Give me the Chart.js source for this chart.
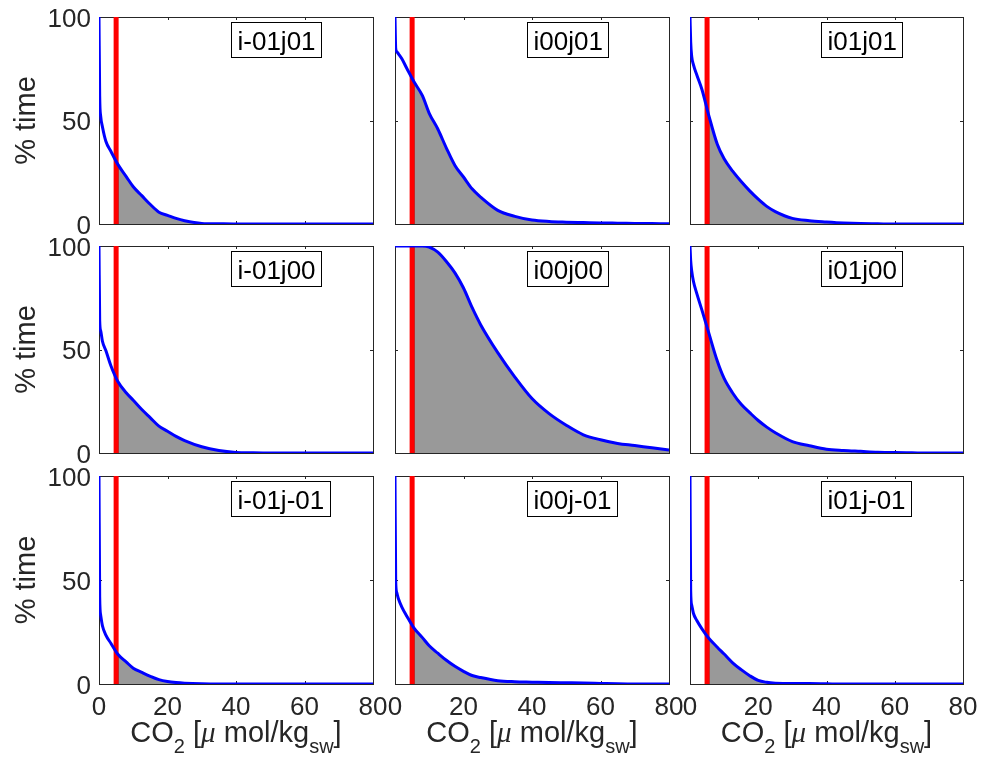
<!DOCTYPE html>
<html>
<head>
<meta charset="utf-8">
<title>CO2 exceedance by grid cell</title>
<script src="https://cdn.jsdelivr.net/npm/chart.js@4/dist/chart.umd.min.js"></script>
<style>
  html, body { margin: 0; padding: 0; background: #ffffff; width: 990px; height: 757px; overflow: hidden; }
  canvas { position: absolute; left: 0; top: 0; }
</style>
</head>
<body>
<script>
// CO2 concentration grid [umol/kg seawater] shared by all cells
const co2Grid = [0, 0.2, 0.5, 1, 2, 3.5, 5.5, 8, 10, 12.5, 15, 17.5, 20, 22.5, 25, 30, 35, 40, 45, 50, 55, 60, 65, 70, 75, 80];

// Percentage of time the CO2 level is exceeded, one series per grid cell
const pctTime_im01j01 = [100, 62, 52, 47, 40, 35, 28.8, 22.8, 18, 13.7, 9.4, 5.7, 4.2, 2.7, 1.6, 0.3, 0.1, 0, 0, 0, 0, 0, 0, 0, 0, 0];
const pctTime_i00j01  = [100, 85, 83.3, 82.2, 79.8, 75, 68.8, 62, 53.5, 45.9, 36.7, 28.3, 22.7, 17, 13, 6.6, 3.7, 1.9, 1.2, 0.9, 0.7, 0.5, 0.4, 0.3, 0.2, 0.1];
const pctTime_i01j01  = [100, 88, 81, 77, 72, 65, 52.5, 38.5, 31.5, 25.5, 20.5, 16, 12, 8.5, 6, 2.7, 1.6, 1, 0.5, 0.2, 0.1, 0, 0, 0, 0, 0];
const pctTime_im01j00 = [100, 64, 59, 54, 49.5, 42, 34.5, 29, 25.5, 21, 17, 13, 10.5, 8, 6, 3, 1.2, 0.3, 0.1, 0, 0, 0, 0, 0, 0, 0];
const pctTime_i00j00  = [100, 100, 100, 100, 100, 100, 100, 100, 99.5, 97, 92.5, 87, 79.7, 70.3, 62, 48.5, 36.7, 26.3, 19, 13.4, 8.8, 6.4, 4.6, 3.6, 2.5, 1.5];
const pctTime_i01j00  = [100, 93, 88, 83, 77, 69, 58, 44.4, 36, 29, 23.5, 19.5, 15.7, 12.5, 9.8, 5.5, 3.5, 1.8, 1.2, 0.8, 0.4, 0.2, 0.1, 0, 0, 0];
const pctTime_im01jm01 = [100, 42, 33, 28, 23.5, 19.5, 14.3, 10.5, 7.6, 5.6, 3.7, 2.1, 1.2, 0.7, 0.4, 0.1, 0, 0, 0, 0, 0, 0, 0, 0, 0, 0];
const pctTime_i00jm01 = [100, 50, 44, 41, 37, 32.5, 27, 22.3, 18.4, 14.8, 11.4, 8.5, 6.1, 4.1, 3.1, 1.6, 1.1, 0.9, 0.7, 0.6, 0.5, 0.3, 0.1, 0, 0, 0];
const pctTime_i01jm01 = [100, 45, 38, 34, 30.5, 26.5, 22, 17.7, 14.4, 10.2, 6.9, 4, 1.7, 0.8, 0.4, 0.2, 0.2, 0.1, 0, 0, 0, 0, 0, 0, 0, 0];

// Cell names, laid out row by row (j = +1, 0, -1; i = -1, 0, +1)
const cellNames = ['i-01j01', 'i00j01', 'i01j01', 'i-01j00', 'i00j00', 'i01j00', 'i-01j-01', 'i00j-01', 'i01j-01'];
const cellSeries = [pctTime_im01j01, pctTime_i00j01, pctTime_i01j01, pctTime_im01j00, pctTime_i00j00, pctTime_i01j00, pctTime_im01jm01, pctTime_i00jm01, pctTime_i01jm01];

// Threshold (red line) and start of the shaded exceedance area
const thresholdCO2 = 5;
const shadeStartCO2 = 5.5;

// Tick labels
const xTicks = [0, 20, 40, 60, 80];
const yTicks = [0, 50, 100];
const xTitleRuns = [
  { t: 'CO', kind: 'main' }, { t: '2', kind: 'sub' }, { t: ' [', kind: 'main' },
  { t: 'μ', kind: 'greek' }, { t: ' mol/kg', kind: 'main' }, { t: 'sw', kind: 'sub' }, { t: ']', kind: 'main' }
];
const yTitle = '% time';

// ---- layout of the 3x3 grid of axes (pixels) ----
const W = 990, H = 757;
const colEdges = [[99, 373], [395, 669], [690, 963]];
const rowEdges = [[17, 224], [246, 453], [476, 684]];

const AXIS_COLOR = '#262626';
const TICK_FONT = '26px "Liberation Sans", Arial, sans-serif';
const TITLE_FONT = '29px "Liberation Sans", Arial, sans-serif';
const SUB_FONT = '20px "Liberation Sans", Arial, sans-serif';
const GREEK_FONT = 'italic 29px "Liberation Serif", "Times New Roman", serif';

const panelDecor = {
  id: 'panelDecor',
  beforeDatasetsDraw(chart, args, opts) {
    const { ctx, chartArea: a, scales: { x, y } } = chart;
    ctx.save();
    ctx.strokeStyle = AXIS_COLOR;
    ctx.lineWidth = 1;
    ctx.strokeRect(Math.round(a.left) + 0.5, Math.round(a.top) + 0.5, Math.round(a.right - a.left), Math.round(a.bottom - a.top));
    const tl = 3;
    ctx.beginPath();
    xTicks.forEach(v => {
      const px = Math.round(x.getPixelForValue(v)) + 0.5;
      ctx.moveTo(px, a.bottom); ctx.lineTo(px, a.bottom - tl);
      ctx.moveTo(px, a.top); ctx.lineTo(px, a.top + tl);
    });
    yTicks.forEach(v => {
      const py = Math.round(y.getPixelForValue(v)) + 0.5;
      ctx.moveTo(a.left, py); ctx.lineTo(a.left + tl, py);
      ctx.moveTo(a.right, py); ctx.lineTo(a.right - tl, py);
    });
    ctx.stroke();
    ctx.restore();
  },
  afterDraw(chart, args, opts) {
    const { ctx, chartArea: a, scales: { x, y } } = chart;
    ctx.save();
    ctx.fillStyle = AXIS_COLOR;
    ctx.textBaseline = 'alphabetic';
    if (opts.yLabels) {
      ctx.font = TICK_FONT;
      ctx.textAlign = 'right';
      yTicks.forEach(v => ctx.fillText(String(v), a.left - 8, y.getPixelForValue(v) + 9.5));
      // y title
      ctx.save();
      ctx.font = TITLE_FONT;
      ctx.textAlign = 'center';
      ctx.textBaseline = 'middle';
      ctx.translate(27, (a.top + a.bottom) / 2);
      ctx.rotate(-Math.PI / 2);
      ctx.fillText(yTitle, 0, 0);
      ctx.restore();
    }
    if (opts.xLabels) {
      ctx.font = TICK_FONT;
      ctx.textAlign = 'center';
      xTicks.forEach(v => ctx.fillText(String(v), x.getPixelForValue(v), a.bottom + 31));
      // x title with subscripts
      const fontOf = k => k === 'sub' ? SUB_FONT : (k === 'greek' ? GREEK_FONT : TITLE_FONT);
      let total = 0;
      xTitleRuns.forEach(r => { ctx.font = fontOf(r.kind); total += ctx.measureText(r.t).width; });
      let cx = (a.left + a.right) / 2 - total / 2;
      const base = a.bottom + 58;
      ctx.textAlign = 'left';
      xTitleRuns.forEach(r => {
        ctx.font = fontOf(r.kind);
        ctx.fillText(r.t, cx, r.kind === 'sub' ? base + 11 : base);
        cx += ctx.measureText(r.t).width;
      });
    }
    // cell name box
    ctx.font = TICK_FONT;
    const tw = ctx.measureText(opts.label).width;
    const bx = Math.round(x.getPixelForValue(38.5)) + 0.5;
    const by = Math.round(a.top + 5) + 0.5;
    const bw = Math.round(tw + 12), bh = 35;
    ctx.fillStyle = '#ffffff';
    ctx.fillRect(bx, by, bw, bh);
    ctx.strokeStyle = '#000000';
    ctx.lineWidth = 1;
    ctx.strokeRect(bx, by, bw, bh);
    ctx.fillStyle = '#000000';
    ctx.textAlign = 'left';
    ctx.fillText(opts.label, bx + 6, by + 27);
    ctx.restore();
  }
};

cellNames.forEach((name, k) => {
  const row = Math.floor(k / 3), col = k % 3;
  const [left, right] = colEdges[col];
  const [top, bottom] = rowEdges[row];
  const canvas = document.createElement('canvas');
  canvas.width = W; canvas.height = H;
  canvas.style.width = W + 'px'; canvas.style.height = H + 'px';
  document.body.appendChild(canvas);

  const series = cellSeries[k];
  const curve = co2Grid.map((c, i) => ({ x: c, y: series[i] }));
  const iStart = co2Grid.indexOf(shadeStartCO2);
  const shaded = curve.slice(iStart);

  new Chart(canvas, {
    type: 'line',
    data: {
      datasets: [
        { label: 'exceedance', data: curve, borderColor: '#0000ff', borderWidth: 3, pointRadius: 0,
          fill: false, cubicInterpolationMode: 'monotone', order: 0 },
        { label: 'threshold', data: [{ x: thresholdCO2, y: 0 }, { x: thresholdCO2, y: 100 }],
          borderColor: '#ff0000', borderWidth: 5, pointRadius: 0, fill: false, order: 1, clip: false },
        { label: 'area edge', data: [{ x: shadeStartCO2, y: 0 }, { x: shadeStartCO2, y: series[iStart] }],
          borderColor: '#000000', borderWidth: 1, pointRadius: 0, fill: false, order: 2 },
        { label: 'area', data: shaded, borderColor: '#000000', borderWidth: 1, pointRadius: 0,
          backgroundColor: '#999999', fill: 'origin', cubicInterpolationMode: 'monotone', order: 3 }
      ]
    },
    options: {
      responsive: false,
      animation: false,
      events: [],
      layout: { padding: { left: left, top: top, right: W - right, bottom: H - bottom } },
      scales: {
        x: { type: 'linear', min: 0, max: 80, display: false },
        y: { type: 'linear', min: 0, max: 100, display: false }
      },
      plugins: {
        legend: { display: false },
        tooltip: { enabled: false },
        panelDecor: { label: name, yLabels: col === 0, xLabels: row === 2 }
      }
    },
    plugins: [panelDecor]
  });
});
</script>
</body>
</html>
